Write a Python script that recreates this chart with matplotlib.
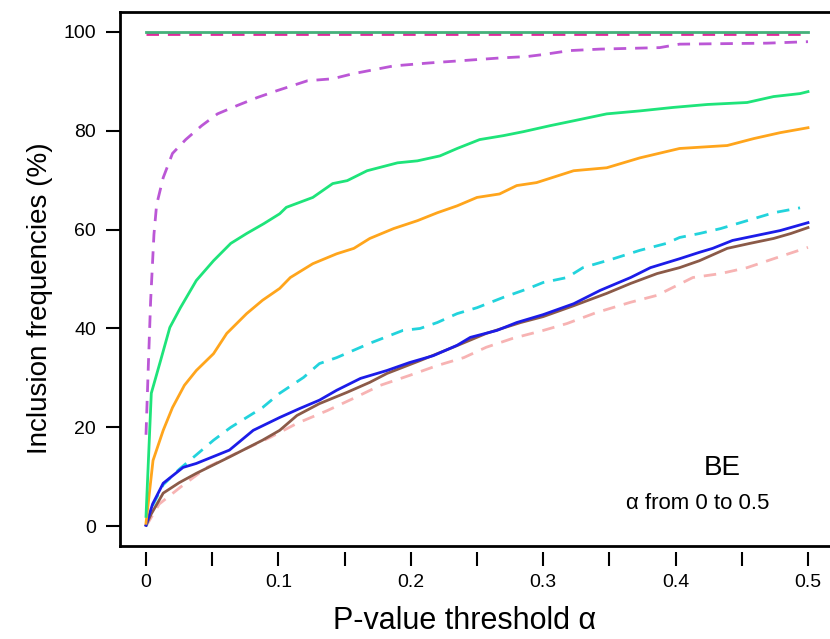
import matplotlib
matplotlib.use("Agg")
import matplotlib.pyplot as plt
from matplotlib.lines import Line2D

plt.rcParams['font.family'] = ['Liberation Sans', 'DejaVu Sans']

# ---- data (alpha threshold vs inclusion frequency %) ----
flat_a = [0.0, 0.5]
flat_green_v = [100.0, 100.0]
flat_magenta_v = [99.6, 99.6]

purple_a = [0, 0.0017, 0.0035, 0.006, 0.008, 0.013, 0.020, 0.030, 0.042, 0.054, 0.069,
            0.084, 0.099, 0.122, 0.141, 0.156, 0.187, 0.214, 0.267, 0.288, 0.30, 0.32,
            0.343, 0.388, 0.403, 0.469, 0.5]
purple_v = [18.5, 32, 45.6, 59, 65, 70.5, 75.4, 78.2, 81, 83.4, 85.1,
            86.7, 88.1, 90.1, 90.5, 91.5, 93.1, 93.7, 94.7, 95, 95.4, 96.2,
            96.5, 96.8, 97.5, 97.7, 98]

green_a = [0, 0.004, 0.011, 0.018, 0.026, 0.038, 0.051, 0.064, 0.076, 0.089, 0.101,
           0.106, 0.126, 0.141, 0.152, 0.167, 0.19, 0.205, 0.222, 0.235, 0.252, 0.27,
           0.285, 0.305, 0.323, 0.348, 0.373, 0.398, 0.424, 0.454, 0.474, 0.494, 0.5]
green_v = [2, 26.9, 33.5, 40.2, 44.2, 49.7, 53.7, 57.2, 59.2, 61.2, 63.2,
           64.5, 66.5, 69.3, 69.9, 71.9, 73.5, 73.9, 74.9, 76.4, 78.2, 79,
           79.8, 81, 82, 83.4, 84, 84.7, 85.3, 85.7, 86.9, 87.5, 87.9]

orange_a = [0, 0.0053, 0.013, 0.020, 0.029, 0.038, 0.051, 0.061, 0.076, 0.088, 0.101,
            0.109, 0.126, 0.144, 0.157, 0.169, 0.187, 0.205, 0.22, 0.235, 0.25, 0.267,
            0.28, 0.295, 0.323, 0.348, 0.373, 0.403, 0.439, 0.459, 0.479, 0.5]
orange_v = [0.6, 13.3, 19.4, 24, 28.5, 31.5, 34.9, 39, 43, 45.7, 48.1,
            50.3, 53.1, 55.1, 56.2, 58.2, 60.2, 61.8, 63.4, 64.8, 66.5, 67.2,
            68.9, 69.5, 71.9, 72.5, 74.5, 76.4, 77, 78.4, 79.6, 80.6]

cyan_a = [0, 0.005, 0.013, 0.025, 0.033, 0.051, 0.064, 0.076, 0.088, 0.101, 0.119,
          0.131, 0.144, 0.169, 0.194, 0.207, 0.22, 0.235, 0.25, 0.27, 0.288, 0.30,
          0.318, 0.33, 0.353, 0.373, 0.393, 0.403, 0.418, 0.434, 0.454, 0.474, 0.494]
cyan_v = [0, 4.2, 8.4, 11.5, 13.3, 17.4, 20, 22, 24, 26.9, 30.1,
          32.9, 34.1, 37, 39.6, 40, 41.2, 43, 44.2, 46.3, 48, 49.3,
          50.3, 52.3, 54.1, 55.8, 57.2, 58.4, 59.2, 60.2, 61.8, 63.4, 64.4]

blue_a = [0, 0.005, 0.013, 0.028, 0.038, 0.063, 0.081, 0.101, 0.116, 0.131, 0.144,
          0.162, 0.182, 0.199, 0.217, 0.235, 0.245, 0.265, 0.28, 0.30, 0.323, 0.343,
          0.366, 0.381, 0.403, 0.418, 0.428, 0.443, 0.461, 0.479, 0.5]
blue_v = [0.2, 4.5, 8.7, 11.9, 12.7, 15.4, 19.4, 22, 23.8, 25.5, 27.5,
          29.9, 31.5, 33.1, 34.5, 36.6, 38.2, 39.6, 41.2, 42.8, 45, 47.7,
          50.3, 52.3, 54.1, 55.4, 56.2, 57.8, 58.8, 59.8, 61.4]

brown_a = [0, 0.004, 0.013, 0.025, 0.038, 0.063, 0.088, 0.101, 0.114, 0.131, 0.152,
           0.169, 0.182, 0.207, 0.232, 0.257, 0.283, 0.30, 0.323, 0.348, 0.366, 0.386,
           0.403, 0.418, 0.439, 0.456, 0.474, 0.487, 0.5]
brown_v = [0.2, 2.5, 6.7, 8.8, 10.7, 14, 17.4, 19.4, 22.4, 24.8, 27.1,
           29.1, 30.9, 33.5, 36.2, 39, 41.2, 42.4, 44.6, 47.1, 49.1, 51.1,
           52.3, 53.7, 56.2, 57.2, 58.2, 59.2, 60.4]

pink_a = [0, 0.01, 0.026, 0.046, 0.07, 0.094, 0.114, 0.137, 0.157, 0.177, 0.199,
          0.22, 0.24, 0.257, 0.277, 0.30, 0.318, 0.34, 0.366, 0.386, 0.398, 0.413,
          0.434, 0.454, 0.474, 0.5]
pink_v = [0, 4.5, 7.9, 11.9, 15, 18, 20.8, 23.4, 25.9, 28.5, 30.5,
          32.5, 34.1, 36.2, 38, 39.6, 41, 43.2, 45.3, 46.7, 48.3, 50.3,
          51.1, 52.3, 54.1, 56.4]

xticks = [0, 0.05, 0.1, 0.15, 0.2, 0.25, 0.3, 0.35, 0.4, 0.45, 0.5]
xticklabels = ['0', '', '0.1', '', '0.2', '', '0.3', '', '0.4', '', '0.5']
yticks = [0, 20, 40, 60, 80, 100]
yticklabels = ['0', '20', '40', '60', '80', '100']

# ---- figure ----
fig = plt.figure(figsize=(8.3, 6.39), dpi=100)
ax = fig.add_axes([0.144, 0.1455, 0.8614, 0.8357])
ax.set_xlim(-0.02, 0.52)
ax.set_ylim(-4, 104)

lw = 2.0
dash = (4.5, 3.2)
ax.plot(flat_a, flat_magenta_v, color='#de2c9c', lw=lw, dashes=dash)
ax.plot(flat_a, flat_green_v, color='#45b07a', lw=lw)
ax.plot(pink_a, pink_v, color='#f7b3b3', lw=lw, dashes=dash)
ax.plot(cyan_a, cyan_v, color='#22d3dc', lw=lw, dashes=dash)
ax.plot(brown_a, brown_v, color='#8b5a48', lw=lw)
ax.plot(blue_a, blue_v, color='#1c1ce8', lw=lw)
ax.plot(orange_a, orange_v, color='#ffa51c', lw=lw)
ax.plot(green_a, green_v, color='#1ee47a', lw=lw)
ax.plot(purple_a, purple_v, color='#bb57d6', lw=lw, dashes=dash)

# frame
for s in ['top', 'left', 'right']:
    ax.spines[s].set_linewidth(2.0)
ax.spines['bottom'].set_position(('outward', 4))
ax.spines['bottom'].set_visible(False)
ax.add_line(Line2D([0, 1], [0, 0], transform=ax.transAxes, color='black',
                   lw=2.0, clip_on=False, solid_capstyle='projecting'))

ax.set_xticks(xticks)
ax.set_xticklabels(xticklabels)
ax.set_yticks(yticks)
ax.set_yticklabels(yticklabels)
ax.tick_params(axis='both', direction='out', length=10, width=1.5, labelsize=14,
               color='black')
ax.tick_params(axis='x', pad=6)
ax.tick_params(axis='y', pad=7)

ax.text(0.4353, 11.8, 'BE', fontsize=20, ha='center', va='center')
ax.text(0.4165, 4.7, '\u03b1 from 0 to 0.5', fontsize=16, ha='center', va='center')

fig.text(0.560, 0.028, 'P-value threshold \u03b1', fontsize=22, ha='center', va='center')
fig.text(0.048, 0.533, 'Inclusion frequencies (%)', fontsize=20, ha='center',
         va='center', rotation=90)

fig.savefig('out.png', dpi=100)
